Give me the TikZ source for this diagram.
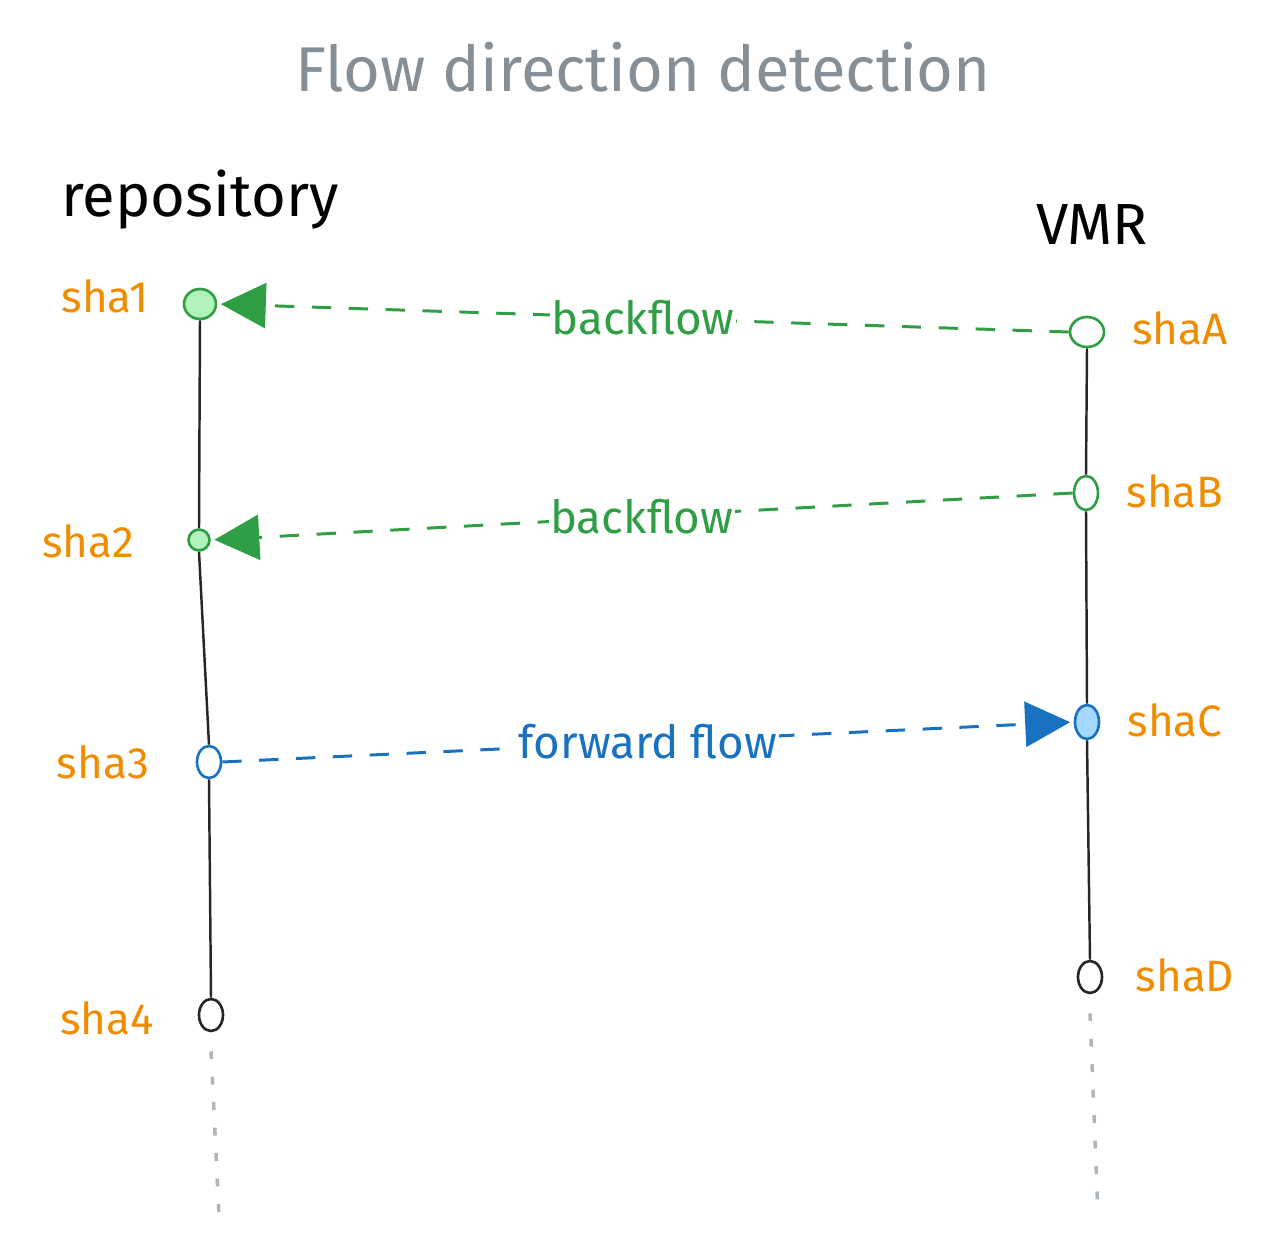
\documentclass[tikz,border=0pt]{standalone}
\usepackage{fontspec}
\setmainfont{Fira Sans}
\usetikzlibrary{shapes.geometric, arrows.meta, positioning}

\definecolor{shaorange}{HTML}{F08C00}
\definecolor{flowgreen}{HTML}{2F9E44}
\definecolor{lightgreen}{HTML}{B2F2BB}
\definecolor{flowblue}{HTML}{1971C2}
\definecolor{lightblue}{HTML}{A5D8FF}
\definecolor{titlegray}{HTML}{868E96}
\definecolor{ghostgray}{HTML}{ADB5BD}

\begin{document}
\begin{tikzpicture}[
  x=0.02cm, y=-0.02cm,
  every node/.style={font=\fontsize{25}{28}\selectfont},
  %% commits on the two histories
  commit/.style={draw, ellipse, line width=1.5pt, inner sep=0pt, fill=white},
  sha/.style={text=shaorange, font=\fontsize{25}{28}\selectfont},
  trunk/.style={line width=1.4pt, black!85},
  ghost/.style={ghostgray, line width=2pt, dash pattern=on 4.5pt off 10pt},
  flow/.style={line width=1.7pt, dash pattern=on 11pt off 10pt,
    -{Triangle[length=0.9cm, width=0.9cm]}, shorten >=2pt},
  flowlbl/.style={fill=white, inner sep=1pt, font=\fontsize{26}{29}\selectfont},
]
\useasboundingbox (0,0) rectangle (1275,1246);

%% =========================================================
%% HEADINGS
%% =========================================================
\node[text=titlegray, font=\fontsize{36}{40}\selectfont] (title) at (643,67)
  {Flow direction detection};
\node[font=\fontsize{34}{38}\selectfont] (repo) at (200,200) {repository};
\node[font=\fontsize{33}{36}\selectfont] (vmr) at (1092,225) {VMR};

%% =========================================================
%% REPOSITORY history
%% =========================================================
\node[commit, draw=flowgreen, fill=lightgreen, minimum width=0.64cm, minimum height=0.6cm]
  (sha1) at (200,304) {};
\node[commit, draw=flowgreen, fill=lightgreen, minimum width=0.42cm, minimum height=0.42cm]
  (sha2) at (199,540) {};
\node[commit, draw=flowblue, minimum width=0.48cm, minimum height=0.64cm]
  (sha3) at (209,762) {};
\node[commit, draw=black!85, minimum width=0.48cm, minimum height=0.64cm]
  (sha4) at (211,1015) {};
\coordinate (repoEnd) at (219,1215);

\node[sha] (l1) at (105,296) {sha1};
\node[sha] (l2) at (88,541) {sha2};
\node[sha] (l3) at (103,762) {sha3};
\node[sha] (l4) at (107,1018) {sha4};

\draw[trunk] (sha1.south) -- (sha2.north);
\draw[trunk] (sha2.south) -- (sha3.north);
\draw[trunk] (sha3.south) -- (sha4.north);
\draw[ghost] ([yshift=-0.38cm]sha4.south) -- (repoEnd);

%% =========================================================
%% VMR history
%% =========================================================
\node[commit, draw=flowgreen, minimum width=0.68cm, minimum height=0.6cm]
  (shaA) at (1087,332) {};
\node[commit, draw=flowgreen, minimum width=0.48cm, minimum height=0.68cm]
  (shaB) at (1086,493) {};
\node[commit, draw=flowblue, fill=lightblue, minimum width=0.48cm, minimum height=0.68cm]
  (shaC) at (1087,722) {};
\node[commit, draw=black!85, minimum width=0.48cm, minimum height=0.64cm]
  (shaD) at (1090,977) {};
\coordinate (vmrEnd) at (1098,1215);

\node[sha] (lA) at (1180,328) {shaA};
\node[sha] (lB) at (1175,491) {shaB};
\node[sha] (lC) at (1175,720) {shaC};
\node[sha] (lD) at (1185,975) {shaD};

\draw[trunk] (shaA.south) -- (shaB.north);
\draw[trunk] (shaB.south) -- (shaC.north);
\draw[trunk] (shaC.south) -- (shaD.north);
\draw[ghost] ([yshift=-0.38cm]shaD.south) -- (vmrEnd);

%% =========================================================
%% FLOWS between the two
%% =========================================================
\draw[flow, flowgreen] (shaA.west) -- node[flowlbl, text=flowgreen] (bf1) {backflow} (sha1.east);
\draw[flow, flowgreen] (shaB.west) -- node[flowlbl, text=flowgreen] (bf2) {backflow} (sha2.east);
\draw[flow, flowblue] (sha3.east) -- node[flowlbl, text=flowblue] (ff) {forward flow} (shaC.west);

\end{tikzpicture}
\end{document}
